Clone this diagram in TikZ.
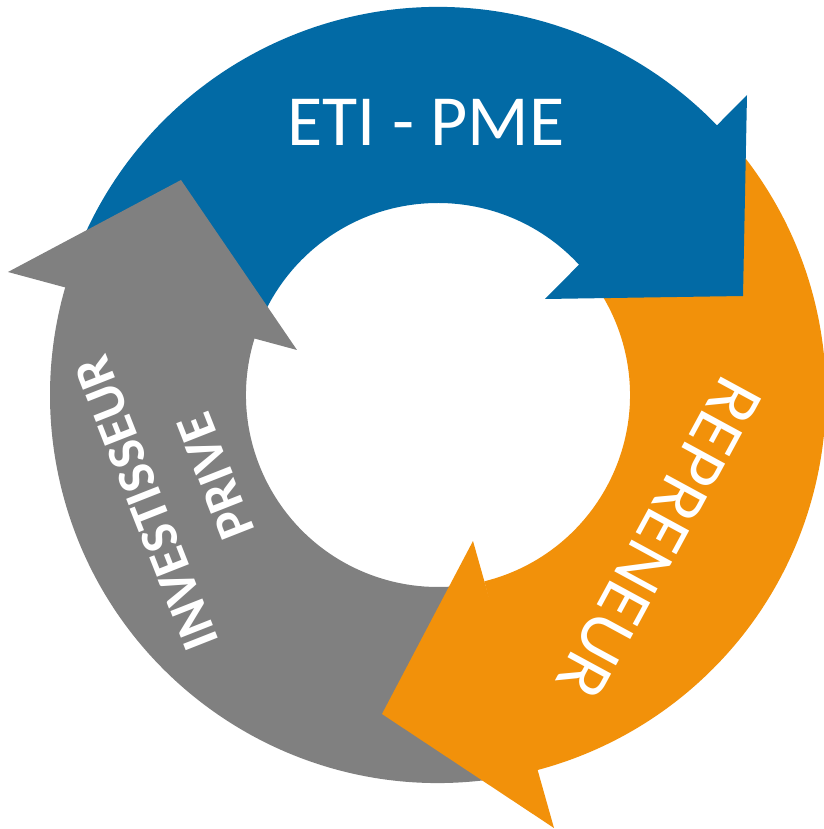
\documentclass[tikz,border=0pt]{standalone}
\usepackage{fontspec}
\setmainfont{Carlito}
\usepackage{tikz}

\definecolor{etiblue}{RGB}{2,106,165}
\definecolor{reporange}{RGB}{242,145,10}
\definecolor{invgray}{RGB}{128,128,128}

\begin{document}
\begin{tikzpicture}[x=1pt,y=1pt,
			label text/.style={text=white,inner sep=0pt,align=center},
			big text/.style={font=\fontsize{72}{86}\selectfont},
			bold text/.style={font=\bfseries\fontsize{53}{74}\selectfont}
			]

			\def \rin {192pt};
			\def \rout {388pt};

			\useasboundingbox (-438,-434) rectangle (385,395);

			% arrow bodies
			\foreach \col/\a/\b in {etiblue/160/42, reporange/40/-76, invgray/-80/-198} {
				\fill[\col] (\a:\rout) arc (\a:\b:\rout) -- (\b:\rin) arc (\b:\a:\rin) -- cycle;
			}

			% arrow heads
			\coordinate (b1) at (309,300);
			\coordinate (b2) at (305,99);
			\coordinate (b3) at (107,96);
			\coordinate (o1) at (35,-146);
			\coordinate (o2) at (116,-433);
			\coordinate (o3) at (-56,-319);
			\coordinate (g1) at (-430,123);
			\coordinate (g2) at (-257,215);
			\coordinate (g3) at (-141,45);
			\fill[etiblue] (b1) -- (b2) -- (b3) -- cycle;
			\fill[reporange] (o1) -- (o2) -- (o3) -- cycle;
			\fill[invgray] (g1) -- (g2) -- (g3) -- cycle;

			\node[label text,big text] (eti) at (-12,273) {ETI - PME};
			\node[label text,big text,rotate=-118.5] (rep) at (221,-143) {REPRENEUR};
			\node[label text,bold text,rotate=111.5] (inv) at (-257,-95) {INVESTISSEUR\\PRIVE};
		\end{tikzpicture}
\end{document}
